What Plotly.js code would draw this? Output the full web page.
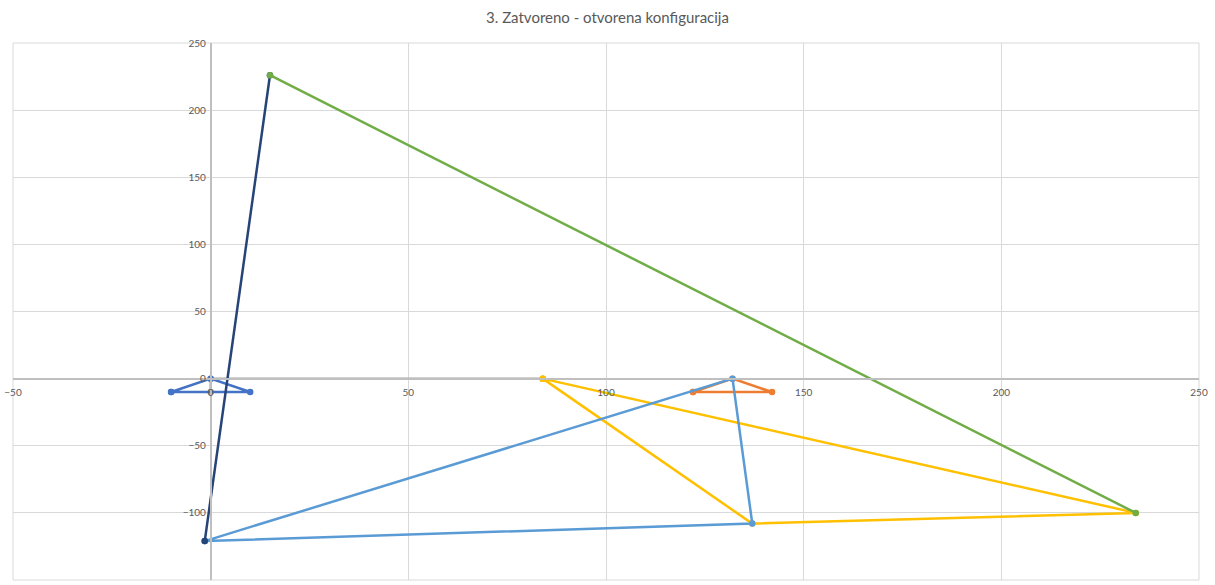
<!DOCTYPE html>
<html>
<head>
<meta charset="utf-8">
<script src="https://cdn.plot.ly/plotly-3.0.1.min.js"></script>
<style>html,body{margin:0;padding:0;background:#fff;}#chart{width:1215px;height:585px;}</style>
</head>
<body>
<div id="chart"></div>
<script>
// Series data
const greyX = [0, 0, 84];
const greyY = [-10, 0, 0];
const blueTriX = [-10, 0, 10, -10];
const blueTriY = [-10, 0, -10, -10];
const orangeTriX = [122, 132, 142, 122];
const orangeTriY = [-10, 0, -10, -10];
const yellowX = [84, 137, 234, 84];
const yellowY = [0, -108, -100, 0];
const lightBlueX = [-1.5, 132, 137, -1.5];
const lightBlueY = [-121, 0, -108, -121];
const navyX = [-1.5, 15];
const navyY = [-121, 226];
const greenX = [15, 234];
const greenY = [226, -100];

const titleText = '3. Zatvoreno - otvorena konfiguracija';

function series(x, y, color) {
  return {
    type: 'scatter', mode: 'lines+markers', x: x, y: y,
    line: {color: color, width: 2.5},
    marker: {color: color, size: 6.5},
    hoverinfo: 'x+y', showlegend: false
  };
}

const data = [
  series(greyX, greyY, '#A5A5A5'),
  series(blueTriX, blueTriY, '#4472C4'),
  series(orangeTriX, orangeTriY, '#ED7D31'),
  series(yellowX, yellowY, '#FFC000'),
  series(lightBlueX, lightBlueY, '#5B9BD5'),
  series(navyX, navyY, '#264478'),
  series(greenX, greenY, '#70AD47')
];

const xr = [-50, 250], yr = [-150, 250];
const layout = {
  width: 1215, height: 585,
  paper_bgcolor: '#ffffff', plot_bgcolor: '#ffffff',
  margin: {l: 13, r: 16, t: 43, b: 5},
  font: {family: 'Lato, "Open Sans", sans-serif', color: '#595959', size: 10},
  title: {text: titleText, x: 0.5, xanchor: 'center', y: 0.97, yanchor: 'middle',
          font: {size: 15, color: '#595959', family: 'Lato, "Open Sans", sans-serif'}},
  xaxis: {
    range: xr, dtick: 50, tick0: 0, showgrid: true, gridcolor: '#d9d9d9', gridwidth: 1,
    zeroline: false, showline: true, linecolor: '#bfbfbf', linewidth: 1.5,
    anchor: 'free', position: (0 - yr[0]) / (yr[1] - yr[0]),
    ticks: '', ticklabelstandoff: 5, tickfont: {size: 10, color: '#595959'}, fixedrange: true
  },
  yaxis: {
    range: yr, dtick: 50, tick0: 0, showgrid: true, gridcolor: '#d9d9d9', gridwidth: 1,
    zeroline: false, showline: true, linecolor: '#bfbfbf', linewidth: 1.5,
    anchor: 'free', position: (0 - xr[0]) / (xr[1] - xr[0]),
    ticks: '', ticklabelstandoff: 2, tickfont: {size: 10, color: '#595959'}, fixedrange: true
  },
  shapes: [{
    type: 'rect', xref: 'paper', yref: 'paper', x0: 0, x1: 1, y0: 0, y1: 1,
    line: {color: '#d9d9d9', width: 1}, layer: 'below'
  }],
  hovermode: 'closest'
};

Plotly.newPlot('chart', data, layout, {displayModeBar: false});
</script>
</body>
</html>
